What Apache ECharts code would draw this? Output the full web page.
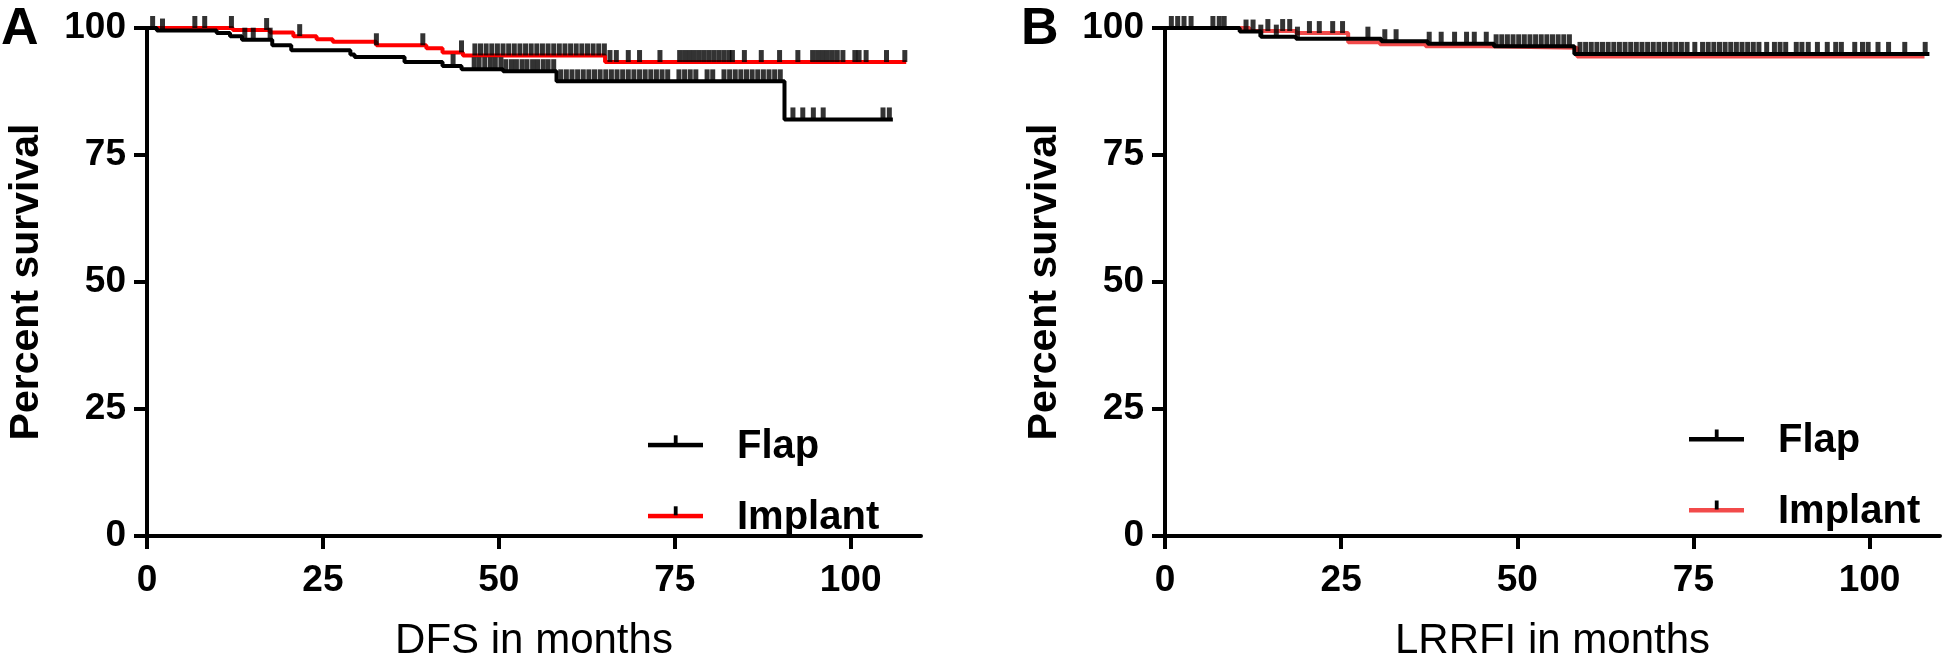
<!DOCTYPE html>
<html>
<head>
<meta charset="utf-8">
<script src="https://cdn.jsdelivr.net/npm/echarts@6/dist/echarts.min.js"></script>
<style>
html,body{margin:0;padding:0;background:#fff;}
#chart{width:1946px;height:667px;}
</style>
</head>
<body>
<div id="chart"></div>
<script>
// ---------- DATA ----------
const xTicks = [0, 25, 50, 75, 100];
const yTicks = [0, 25, 50, 75, 100];
const groups = ['Flap', 'Implant'];

// Panel A (DFS): Kaplan-Meier step points (time in months, percent survival)
const flapA_t = [0, 1.4, 9.9, 11.8, 13.5, 17.8, 20.5, 28.9, 29.5, 36.6, 42.0, 44.7, 50.6, 58.2, 90.6];
const flapA_s = [100, 99.5, 99.0, 98.4, 97.7, 96.6, 95.6, 94.8, 94.3, 93.3, 92.5, 91.9, 91.5, 89.5, 82.0];
const flapA_end = 106.0;
const implantA_t = [0, 12.2, 17.5, 20.8, 24.1, 26.4, 32.6, 39.7, 42.0, 44.9, 65.1];
const implantA_s = [100, 99.6, 99.1, 98.4, 97.8, 97.3, 96.6, 96.0, 95.2, 94.6, 93.3];
const implantA_end = 107.9;
// censored times
const flapA_c = [0.8, 2.2, 13.9, 15.1, 17.5, 43.5, 46.5, 47.2, 48.0, 48.8, 49.5, 50.3, 51.0, 51.8, 52.5, 53.3, 54.0, 54.8, 55.5, 56.3, 57.0, 57.8,
  58.8, 59.6, 60.4, 61.2, 62.0, 62.8, 63.6, 64.4, 65.2, 66.0, 66.8, 67.6, 68.4, 69.2, 70.0, 70.8, 71.6, 72.4, 73.2, 74.0, 75.6, 76.4, 77.2, 78.0,
  79.6, 80.4, 82.0, 82.8, 83.6, 84.4, 85.2, 86.0, 86.8, 87.6, 88.4, 89.2, 90.0, 91.8, 93.2, 94.7, 96.1, 104.6, 105.5];
const implantA_c = [6.8, 8.2, 12.0, 17.0, 21.7, 32.6, 39.2, 44.7, 46.6, 47.4, 48.2, 49.0, 49.8, 50.6, 51.4, 52.2, 53.0, 53.8, 54.6, 55.4, 56.2,
  57.0, 57.8, 58.6, 59.4, 60.2, 61.0, 61.8, 62.6, 63.4, 64.2, 65.0, 65.8, 66.7, 68.4, 70.0, 72.9, 75.7, 76.4, 77.1, 77.8, 78.5, 79.2, 79.9,
  80.6, 81.3, 82.0, 82.7, 83.2, 84.9, 87.3, 89.9, 92.5, 94.6, 95.3, 96.0, 96.7, 97.4, 98.1, 98.9, 100.6, 101.2, 102.2, 105.1, 107.7];

// Panel B (LRRFI)
const flapB_t = [0, 10.6, 13.6, 18.6, 30.7, 37.3, 46.7, 58.1];
const flapB_s = [100, 99.3, 98.3, 97.9, 97.4, 96.9, 96.4, 94.9];
const flapB_end = 108.5;
const implantB_t = [0, 12.0, 18.6, 26.0, 30.5, 37.0, 45.2, 58.5];
const implantB_s = [100, 99.4, 99.0, 97.2, 96.8, 96.4, 96.1, 94.4];
const implantB_end = 107.8;
const flapB_c = [0.9, 1.8, 2.7, 3.7, 6.8, 7.7, 8.4, 11.5, 12.5, 13.6, 15.8, 18.8, 28.8, 31.2, 32.8, 37.5, 39.2, 41.1, 42.8, 43.9, 45.6,
  47.0, 47.8, 48.6, 49.4, 50.2, 51.0, 51.8, 52.6, 53.4, 54.2, 55.0, 55.8, 56.6, 57.4, 58.9, 59.7, 60.5, 61.3, 62.1, 62.9, 63.7, 64.5,
  65.3, 66.1, 66.9, 67.7, 68.5, 69.3, 70.1, 70.9, 71.7, 72.5, 73.3, 74.1, 75.2, 76.3, 77.1, 77.9, 78.7, 79.5, 80.3, 81.1, 81.9, 82.7,
  83.5, 84.3, 85.4, 86.5, 87.3, 88.1, 89.6, 90.4, 91.3, 92.6, 94.0, 95.2, 96.0, 97.9, 99.0, 99.8, 101.2, 102.7, 105.0, 107.9];
const implantB_c = [14.6, 16.7, 17.7, 20.5, 21.9, 23.8, 25.2];

// ---------- HELPERS ----------
function stepData(ts, ss, end) {
  const d = ts.map((t, i) => [t, ss[i]]);
  d.push([end, ss[ss.length - 1]]);
  return d;
}
function levelAt(ts, ss, x) {
  let v = ss[0];
  for (let i = 0; i < ts.length; i++) { if (ts[i] <= x) v = ss[i]; }
  return v;
}
function censorData(cs, ts, ss) {
  return cs.map(c => [c, levelAt(ts, ss, c)]);
}
function icon(lineColor) {
  const svg = '<svg xmlns="http://www.w3.org/2000/svg" width="55" height="26" viewBox="0 0 55 26">' +
    '<rect x="0" y="9" width="55" height="4.5" fill="' + lineColor + '"/>' +
    '<rect x="25.8" y="1.5" width="3.8" height="9" fill="#000"/></svg>';
  return 'image://data:image/svg+xml;charset=utf-8,' + encodeURIComponent(svg);
}

const FONT = '"Liberation Sans", Arial, Helvetica, sans-serif';
const RED_A = '#ff0000';
const RED_B = '#f24a4a';

function xAxisCfg(gridIndex, name) {
  return {
    type: 'value', gridIndex, min: 0, max: 110,
    name, nameLocation: 'middle', nameGap: 84,
    nameTextStyle: { fontFamily: FONT, fontSize: 42, fontWeight: 'normal', color: '#000' },
    axisLine: { show: true, onZero: false, lineStyle: { color: '#000', width: 4 } },
    axisTick: { show: true, length: 13, customValues: xTicks, lineStyle: { color: '#000', width: 4 } },
    axisLabel: { customValues: xTicks, margin: 26, fontFamily: FONT, fontSize: 37, fontWeight: 'bold', color: '#000' },
    splitLine: { show: false }
  };
}
function yAxisCfg(gridIndex) {
  return {
    type: 'value', gridIndex, min: 0, max: 100,
    name: 'Percent survival', nameLocation: 'middle', nameGap: 100,
    nameTextStyle: { fontFamily: FONT, fontSize: 41, fontWeight: 'bold', color: '#000' },
    axisLine: { show: true, onZero: false, lineStyle: { color: '#000', width: 4 } },
    axisTick: { show: true, length: 13, customValues: yTicks, lineStyle: { color: '#000', width: 4 } },
    axisLabel: { customValues: yTicks, margin: 21, fontFamily: FONT, fontSize: 37, fontWeight: 'bold', color: '#000' },
    splitLine: { show: false }
  };
}
function kmLine(name, data, color, idx, z) {
  return {
    type: 'line', name, xAxisIndex: idx, yAxisIndex: idx, data, step: 'end',
    showSymbol: false, symbol: 'none', z, clip: false,
    lineStyle: { color, width: 4 }, itemStyle: { color }, emphasis: { disabled: true }
  };
}
function censor(name, data, idx) {
  return {
    type: 'scatter', name, xAxisIndex: idx, yAxisIndex: idx, data,
    symbol: 'rect', symbolSize: [5, 12], symbolOffset: [0, -6], z: 5, clip: false,
    itemStyle: { color: '#000' }, emphasis: { disabled: true }
  };
}
function legendCfg(left, top, red) {
  return {
    orient: 'vertical', left, top, padding: 0, itemGap: 31,
    itemWidth: 55, itemHeight: 26, selectedMode: false,
    textStyle: { fontFamily: FONT, fontSize: 40, fontWeight: 'bold', color: '#000', lineHeight: 38, padding: [0, 0, 0, 29] },
    data: [{ name: groups[0], icon: icon('#000') }, { name: groups[1], icon: icon(red) }]
  };
}

const chart = echarts.init(document.getElementById('chart'), null, { renderer: 'canvas' });
chart.setOption({
  animation: false,
  backgroundColor: '#fff',
  title: [
    { text: 'A', left: 1, top: 4, padding: 0, textStyle: { fontFamily: FONT, fontSize: 52, fontWeight: 'bold', color: '#000' } },
    { text: 'B', left: 1021, top: 4, padding: 0, textStyle: { fontFamily: FONT, fontSize: 52, fontWeight: 'bold', color: '#000' } }
  ],
  grid: [
    { left: 147, top: 28, width: 774, height: 516 },
    { left: 1165, top: 28, width: 775, height: 516 }
  ],
  xAxis: [xAxisCfg(0, 'DFS in months'), xAxisCfg(1, 'LRRFI in months')],
  yAxis: [yAxisCfg(0), yAxisCfg(1)],
  legend: [legendCfg(648, 426.8, RED_A), legendCfg(1689, 421, RED_B)],
  series: [
    kmLine(groups[1], stepData(implantA_t, implantA_s, implantA_end), RED_A, 0, 2),
    kmLine(groups[0], stepData(flapA_t, flapA_s, flapA_end), '#000', 0, 3),
    censor('Implant censored A', censorData(implantA_c, implantA_t, implantA_s), 0),
    censor('Flap censored A', censorData(flapA_c, flapA_t, flapA_s), 0),
    kmLine(groups[1], stepData(implantB_t, implantB_s, implantB_end), RED_B, 1, 2),
    kmLine(groups[0], stepData(flapB_t, flapB_s, flapB_end), '#000', 1, 3),
    censor('Implant censored B', censorData(implantB_c, implantB_t, implantB_s), 1),
    censor('Flap censored B', censorData(flapB_c, flapB_t, flapB_s), 1)
  ]
});
</script>
</body>
</html>
